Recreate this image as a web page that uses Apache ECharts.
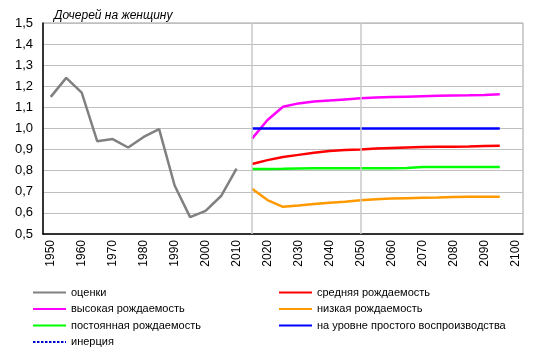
<!DOCTYPE html>
<html><head><meta charset="utf-8">
<script src="https://cdn.jsdelivr.net/npm/echarts@6/dist/echarts.min.js"></script>
<style>html,body{margin:0;padding:0;background:#fff}#c{width:538px;height:358px}</style>
</head><body><div id="c"></div>
<script>
var years = [1950,1955,1960,1965,1970,1975,1980,1985,1990,1995,2000,2005,2010,2015,2020,2025,2030,2035,2040,2045,2050,2055,2060,2065,2070,2075,2080,2085,2090,2095,2100];
var yTicks = [0.5,0.6,0.7,0.8,0.9,1.0,1.1,1.2,1.3,1.4,1.5];
var estYears = [1950,1955,1960,1965,1970,1975,1980,1985,1990,1995,2000,2005,2010];
var estimates = [1.15,1.24,1.17,0.94,0.95,0.91,0.96,0.997,0.73,0.58,0.61,0.68,0.81];
var projYears = [2015,2020,2025,2030,2035,2040,2045,2050,2055,2060,2065,2070,2075,2080,2085,2090,2095];
var medium = [0.832,0.85,0.865,0.875,0.885,0.893,0.898,0.901,0.905,0.908,0.910,0.912,0.913,0.914,0.915,0.917,0.918];
var high = [0.952,1.04,1.103,1.119,1.128,1.133,1.138,1.143,1.147,1.149,1.151,1.153,1.155,1.156,1.157,1.159,1.162];
var low = [0.715,0.661,0.629,0.635,0.642,0.648,0.653,0.660,0.665,0.668,0.670,0.672,0.673,0.675,0.676,0.676,0.676];
var constant = [0.808,0.808,0.809,0.811,0.812,0.812,0.812,0.812,0.812,0.812,0.813,0.817,0.817,0.817,0.817,0.817,0.817];
var replacement = [1.0,1.0,1.0,1.0,1.0,1.0,1.0,1.0,1.0,1.0,1.0,1.0,1.0,1.0,1.0,1.0,1.0];
var inertia = [];
var markYears = [2015, 2050];

function toCat(ys, vs){
  return years.map(function(y){ var i = ys.indexOf(y); return i >= 0 ? vs[i] : null; });
}
var FONT = 'Liberation Sans';
function line(name, data, color, w, type){
  return {name:name, type:'line', data:data, symbol:'none', showSymbol:false, connectNulls:false,
    lineStyle:{color:color, width:w, type:type||'solid'}, itemStyle:{color:color}, z:3};
}
var s0 = line('оценки', toCat(estYears, estimates), '#808080', 2.5);
s0.markLine = {silent:true, symbol:'none', label:{show:false},
  lineStyle:{color:'#c8c8c8', width:1.5, type:'solid'},
  data: markYears.map(function(y){ return {xAxis: String(y)}; })};
var inert = line('инерция', toCat([], inertia), '#0000cc', 1, [2.5,1.5]);
var series = [
  s0,
  line('средняя рождаемость', toCat(projYears, medium), '#ff0000', 2.5),
  line('высокая рождаемость', toCat(projYears, high), '#ff00ff', 2.5),
  line('низкая рождаемость', toCat(projYears, low), '#ff9900', 2.5),
  line('постоянная рождаемость', toCat(projYears, constant), '#00ff00', 2.5),
  line('на уровне простого воспроизводства', toCat(projYears, replacement), '#0000ff', 2.5),
  inert
];
var legendText = {color:'#000', fontFamily:FONT, fontSize:11};
var legendCommon = {orient:'vertical', top:282, itemWidth:33, itemHeight:12, itemGap:5.5, selectedMode:false,
  textStyle:legendText, itemStyle:{opacity:0, borderWidth:0}};
var chart = echarts.init(document.getElementById('c'), null, {renderer:'canvas'});
chart.setOption({
  animation:false,
  textStyle:{fontFamily:FONT},
  title:{text:'Дочерей на женщину', left:49, top:5,
    textStyle:{fontFamily:FONT, fontSize:12, fontStyle:'italic', fontWeight:'normal', color:'#000'}},
  grid:{left:43, right:15, top:23, bottom:124, show:true, borderColor:'#a0a0a0', borderWidth:1, backgroundColor:'transparent'},
  xAxis:{type:'category', data:years.map(String), boundaryGap:true,
    axisLine:{lineStyle:{color:'#000', width:1.5}}, axisTick:{show:false},
    axisLabel:{interval:1, rotate:90, margin:6, fontFamily:FONT, fontSize:12, color:'#000'},
    splitLine:{show:false}},
  yAxis:{type:'value', min:yTicks[0], max:yTicks[yTicks.length-1], interval:0.1,
    axisLine:{show:true, lineStyle:{color:'#000', width:1.5}}, axisTick:{show:false},
    axisLabel:{margin:10, fontFamily:FONT, fontSize:13, color:'#000',
      formatter:function(v){ return v.toFixed(1).replace('.', ','); }},
    splitLine:{lineStyle:{color:'#bfbfbf', width:1}}},
  legend:[
    Object.assign({left:27, data:['оценки','высокая рождаемость','постоянная рождаемость','инерция']}, legendCommon),
    Object.assign({left:273, data:['средняя рождаемость','низкая рождаемость','на уровне простого воспроизводства']}, legendCommon)
  ],
  series:series
});
</script></body></html>
